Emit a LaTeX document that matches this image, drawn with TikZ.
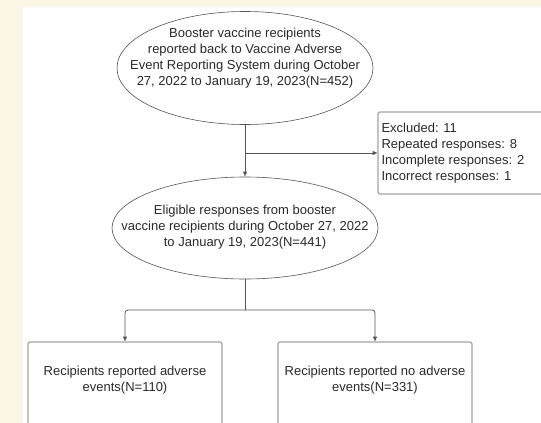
\documentclass[tikz,border=0pt]{standalone}
\usepackage{fontspec}
\setmainfont{Liberation Sans}
\usetikzlibrary{shapes.geometric,arrows.meta}
\definecolor{cream}{HTML}{FBF6E5}
\definecolor{linegray}{HTML}{555555}
\definecolor{inkgray}{HTML}{2A2A2A}

\begin{document}
\begin{tikzpicture}[x=1pt,y=-1pt,
		oval/.style={ellipse, draw=linegray, line width=0.6pt, inner sep=0pt},
		box/.style={rectangle, draw=linegray, line width=0.6pt, rounded corners=1.5pt, inner sep=0pt},
		txt/.style={align=center, text=inkgray, font=\fontsize{13}{16}\selectfont},
		conn/.style={draw=linegray, line width=0.8pt},
		arr/.style={conn, -{Latex[length=5pt,width=4.5pt]}}]
		\useasboundingbox (0,0) rectangle (541,423);
		\clip (0,0) rectangle (541,423);
		\fill[cream] (0,0) rectangle (541,423);
		\fill[white] (23,7) rectangle (541,423);
		% ellipses
		\node[oval, minimum width=256pt, minimum height=113pt] (rep) at (245,68) {};
		\node[txt] (reptext) at (245,58) {Booster vaccine recipients\\reported back to Vaccine Adverse\\Event Reporting System during October\\27, 2022 to January 19, 2023(N=452)};
		\node[oval, minimum width=266pt, minimum height=102pt] (elig) at (245,228) {};
		\node[txt] (eligtext) at (245,227) {Eligible responses from booster\\vaccine recipients during October 27, 2022\\to January 19, 2023(N=441)};
		% boxes
		\node[box, minimum width=192pt, minimum height=82pt] (excl) at (474,153) {};
		\node[txt, align=left, anchor=west] (excltext) at (378,153) {Excluded: 11\\Repeated responses: 8\\Incomplete responses: 2\\Incorrect responses: 1};
		\node[box, minimum width=194pt, minimum height=90pt] (adv) at (125,387) {};
		\node[txt] (advtext) at (125,380) {Recipients reported adverse\\events(N=110)};
		\node[box, minimum width=194pt, minimum height=90pt] (noadv) at (375,387) {};
		\node[txt] (noadvtext) at (375,380) {Recipients reported no adverse\\events(N=331)};
		% connectors
		\draw[arr] (rep.south) -- (elig.north);
		\draw[arr] (rep.south |- excl.west) -- (excl.west);
		\coordinate (split) at (245,310);
		\draw[conn] (elig.south) -- (split);
		\draw[arr, rounded corners=3pt] (split) -| (adv.north);
		\draw[arr, rounded corners=3pt] (split) -| (noadv.north);
	\end{tikzpicture}
\end{document}
